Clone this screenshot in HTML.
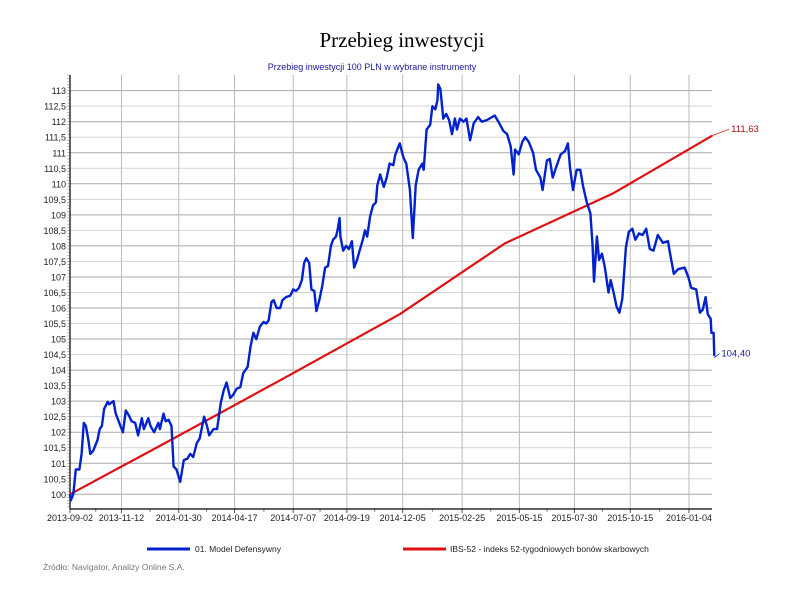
<!DOCTYPE html>
<html><head><meta charset="utf-8">
<style>
body{margin:0;background:#fff;width:804px;height:602px;overflow:hidden;font-family:"Liberation Sans",sans-serif}
svg{display:block}
</style></head>
<body>
<svg id="chart" width="804" height="602" viewBox="0 0 804 602" xmlns="http://www.w3.org/2000/svg">
<text x="402" y="47" text-anchor="middle" font-family="Liberation Serif, serif" font-size="21" fill="#000">Przebieg inwestycji</text>
<text x="372" y="70" text-anchor="middle" font-size="9" fill="#1a1aa0">Przebieg inwestycji 100 PLN w wybrane instrumenty</text>
<g id="grid"></g>
<g id="axes"></g>
<g id="series"></g>
<g>
<line x1="147" y1="549" x2="190" y2="549" stroke="#0022cc" stroke-width="3"/>
<text x="195" y="552" font-size="8.5" fill="#222">01. Model Defensywny</text>
<line x1="403" y1="549" x2="446" y2="549" stroke="#dd1111" stroke-width="3"/>
<text x="450" y="552" font-size="8.5" fill="#222">IBS-52 - indeks 52-tygodniowych bonów skarbowych</text>
</g>
<text x="43" y="570" font-size="8.5" fill="#777">Źródło: Navigator, Analizy Online S.A.</text>
</svg>
<script>
const xTickLabels=["2013-09-02","2013-11-12","2014-01-30","2014-04-17","2014-07-07","2014-09-19","2014-12-05","2015-02-25","2015-05-15","2015-07-30","2015-10-15","2016-01-04"];
const yTicks=[100,100.5,101,101.5,102,102.5,103,103.5,104,104.5,105,105.5,106,106.5,107,107.5,108,108.5,109,109.5,110,110.5,111,111.5,112,112.5,113];
const modelDays=[0,1,4.6,8,13,16,19,22,25,28,32,38,41,44,47,52,54,60,63,68,73,77,81,85,90,94,99,102,108,111,116,122,124,129,132,136,140,143,147,152,157,162,166,170,175,179,185,189,192,198,203,208,212,216,221,225,230,235,239,245,249,253,257,262,267,271,274,278,281,285,290,293,298,304,308,312,316,320,323,326,330,333,337,340,344,348,352,356,360,363,367,369,372,373,377,381,385,389,392,396,399,404,407,410,414,418,422,424,428,433,437,441,446,449,454,455,460,464,469,473,477,481,486,488,492,497,500,504,507,508,511,515,519,523,527,531,534,538,543,547,552,557,563,568,575,586,591,598,603,608,612,614,619,624,628,633,639,643,649,652,658,662,666,671,677,683,687,690,694,699,704,708,713,718,721,723,727,730,734,738,743,746,750,754,758,762,767,771,776,780,785,790,795,800,805,811,818,825,828,833,839,848,853,857,864,869,873,877,880,884,885,888,889];
const modelValues=[100,99.8,100,100.8,100.8,101.3,102.3,102.2,101.8,101.3,101.4,101.75,102.1,102.2,102.75,102.98,102.9,103,102.6,102.3,102,102.7,102.55,102.35,102.3,101.9,102.45,102.1,102.45,102.2,102,102.3,102.1,102.6,102.35,102.4,102.2,100.9,100.8,100.4,101.1,101.15,101.3,101.2,101.65,101.8,102.5,102.2,101.9,102.1,102.1,102.95,103.35,103.6,103.1,103.2,103.4,103.45,103.9,104.1,104.75,105.2,105,105.4,105.55,105.5,105.6,106.2,106.25,106,106,106.25,106.35,106.4,106.6,106.55,106.65,106.9,107.45,107.6,107.45,106.6,106.55,105.9,106.25,106.7,107.3,107.35,108,108.2,108.3,108.5,108.9,108.3,107.85,108,107.9,108.15,107.3,107.55,107.8,108.2,108.5,108.3,108.95,109.3,109.4,109.95,110.3,109.9,110.2,110.65,110.6,110.95,111.25,111.3,110.85,110.65,109.8,108.25,109.95,110.45,110.65,110.45,111.75,111.9,112.5,112.4,112.7,113.2,113.05,112.1,112.25,112.05,111.6,112.1,111.75,112.1,112,112.1,111.4,111.95,112.15,112,112.05,112.2,112,111.7,111.6,111.2,110.3,111.1,110.95,111.35,111.5,111.35,111,110.45,110.2,109.8,110.75,110.8,110.2,110.55,110.95,111.05,111.3,110.5,109.8,110.45,110.45,109.9,109.4,109.05,108,106.85,108.3,107.55,107.75,107.3,106.5,106.9,106.5,106.05,105.85,106.3,107.95,108.45,108.55,108.2,108.4,108.35,108.55,107.9,107.85,108.35,108.1,108.15,107.75,107.1,107.25,107.3,107,106.65,106.6,105.85,105.95,106.35,105.8,105.65,105.2,105.2,104.45,104.4];
const ibsDays=[0,147,300,455,600,750,886];
const ibsValues=[100,101.85,103.8,105.8,108.08,109.7,111.55];
const ibsLast=111.63, modelLast=104.40;

const NS="http://www.w3.org/2000/svg";
const X0=70,X1=712,Y0=75,Y1=509,PXD=0.7248;
const START=Date.UTC(2013,8,2);
const xDay=d=>X0+d*PXD;
const xDate=s=>{const p=s.split('-');return xDay((Date.UTC(+p[0],p[1]-1,+p[2])-START)/864e5);};
const yV=v=>494.3-(v-100)*31.05;
function mk(tag,attrs,parent){const e=document.createElementNS(NS,tag);for(const k in attrs)e.setAttribute(k,attrs[k]);parent.appendChild(e);return e;}
const grid=document.getElementById('grid'),axes=document.getElementById('axes'),series=document.getElementById('series');
const fmt=v=>String(v).replace('.',',');

yTicks.forEach(v=>{
  const y=yV(v);
  const major=Number.isInteger(v);
  const l=mk('line',{x1:X0,x2:X1,y1:y,y2:y,stroke:major?'#aaa':'#d4d4d4','stroke-width':1},grid);
  
  
  const t=mk('text',{x:66,y:y+3.5,'text-anchor':'end','font-size':9,fill:'#222'},axes);
  
  
  t.textContent=fmt(v);
});
for(let v=99.6;v<113.5;v+=0.1){
  const tk=mk('line',{x1:X0-3,x2:X0,y1:yV(v),y2:yV(v),stroke:'#999','stroke-width':0.6},axes);
  
  
}
xTickLabels.forEach((s,i)=>{
  const x=xDate(s);
  const l=mk('line',{x1:x,x2:x,y1:Y0,y2:Y1,stroke:'#bbb','stroke-width':1},grid);
  
  
  const tk=mk('line',{x1:x,x2:x,y1:Y1,y2:Y1+4,stroke:'#555'},axes);
  
  
  const t=mk('text',{x:x,y:521,'text-anchor':'middle','font-size':9,fill:'#222'},axes);
  
  
  t.textContent=s;
  if(i<xTickLabels.length-1){
    const xm=(x+xDate(xTickLabels[i+1]))/2;
    const m=mk('line',{x1:xm,x2:xm,y1:Y1,y2:Y1+3,stroke:'#888'},axes);
    
    
  }
});
const ya=mk('line',{x1:X0,x2:X0,y1:Y0,y2:Y1,stroke:'#000','stroke-width':1.2},axes);


const xa=mk('line',{x1:X0,x2:X1,y1:Y1,y2:Y1,stroke:'#000','stroke-width':1.2},axes);



const pts=(ds,vs)=>ds.map((d,i)=>xDay(d).toFixed(1)+','+yV(vs[i]).toFixed(1)).join(' ');
const red=mk('polyline',{points:pts(ibsDays,ibsValues),fill:'none',stroke:'#dd1111','stroke-width':2.2,'stroke-linejoin':'round'},series);


const blue=mk('polyline',{points:pts(modelDays,modelValues),fill:'none',stroke:'#0022cc','stroke-width':2.4,'stroke-linejoin':'round'},series);



const rx=xDay(ibsDays[ibsDays.length-1]),ry=yV(ibsValues[ibsValues.length-1]);
const rc=mk('line',{x1:rx,y1:ry,x2:rx+17,y2:yV(ibsLast)-4,stroke:'#dd1111','stroke-width':0.8},series);


const rl=mk('text',{x:rx+19,y:yV(ibsLast)-1,'font-size':9.5,fill:'#b01010'},series);


rl.textContent=ibsLast.toFixed(2).replace('.',',');
const bx=xDay(modelDays[modelDays.length-1]),by=yV(modelValues[modelValues.length-1]);
const bc=mk('line',{x1:bx,y1:by,x2:bx+5,y2:by-4,stroke:'#0022cc','stroke-width':0.8},series);


const bl=mk('text',{x:bx+7,y:by-1,'font-size':9.5,fill:'#1a1aa0'},series);


bl.textContent=modelLast.toFixed(2).replace('.',',');
</script>
</body></html>
